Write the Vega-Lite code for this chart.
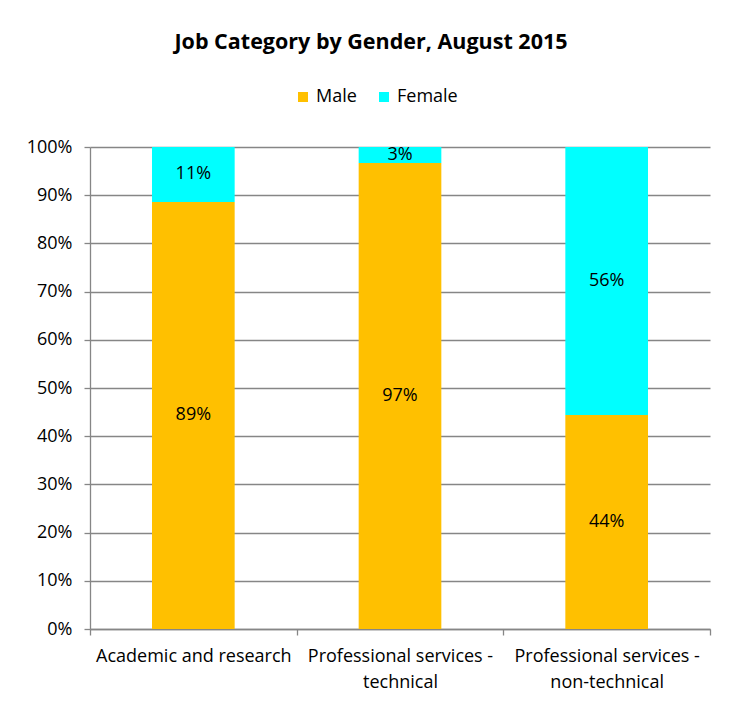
{
  "$schema": "https://vega.github.io/schema/vega-lite/v6.json",
  "width": 620,
  "height": 482,
  "autosize": {"type": "none"},
  "padding": {"left": 90, "top": 147, "right": 22, "bottom": 80},
  "background": "white",
  "title": {
    "text": "Job Category by Gender, August 2015",
    "anchor": "middle",
    "dx": -29,
    "offset": 35,
    "fontSize": 21.5,
    "font": "Open Sans",
    "fontWeight": "bold",
    "color": "black"
  },
  "config": {
    "font": "Open Sans",
    "view": {"stroke": null}
  },
  "data": {
    "values": [
      {"category": "Academic and research", "gender": "Male", "value": 0.886},
      {"category": "Academic and research", "gender": "Female", "value": 0.114},
      {"category": "Professional services - technical", "gender": "Male", "value": 0.967},
      {"category": "Professional services - technical", "gender": "Female", "value": 0.033},
      {"category": "Professional services - non-technical", "gender": "Male", "value": 0.444},
      {"category": "Professional services - non-technical", "gender": "Female", "value": 0.556}
    ]
  },
  "transform": [
    {"stack": "value", "groupby": ["category"], "sort": [{"field": "gender", "order": "descending"}], "as": ["y0", "y1"]},
    {"calculate": "(datum.y0 + datum.y1) / 2", "as": "mid"}
  ],
  "encoding": {
    "x": {
      "field": "category",
      "type": "nominal",
      "sort": null,
      "scale": {"paddingInner": 0, "paddingOuter": 0},
      "axis": {
        "title": null,
        "labelAngle": 0,
        "tickBand": "extent",
        "domainColor": "#868686",
        "domainWidth": 1.3,
        "tickColor": "#868686",
        "tickWidth": 1.3,
        "tickSize": 6,
        "labelFontSize": 18,
        "labelColor": "black",
        "labelPadding": 12,
        "labelLineHeight": 26,
        "labelLimit": 300,
        "labelExpr": "split(replace(datum.label, ' - ', ' -|'), '|')"
      }
    }
  },
  "layer": [
    {
      "mark": {"type": "bar", "width": {"band": 0.4}},
      "encoding": {
        "y": {
          "field": "y0",
          "type": "quantitative",
          "scale": {"domain": [0, 1]},
          "axis": {
            "title": null,
            "format": ".0%",
            "values": [0, 0.1, 0.2, 0.3, 0.4, 0.5, 0.6, 0.7, 0.8, 0.9, 1],
            "gridColor": "#868686",
            "gridWidth": 1.3,
            "domainColor": "#868686",
            "domainWidth": 1.3,
            "tickColor": "#868686",
            "tickWidth": 1.3,
            "tickSize": 6,
            "labelFontSize": 18,
            "labelColor": "black",
            "labelPadding": 12
          }
        },
        "y2": {"field": "y1"},
        "color": {
          "field": "gender",
          "type": "nominal",
          "scale": {"domain": ["Male", "Female"], "range": ["#FFC000", "#00FFFF"]},
          "legend": {
            "title": null,
            "orient": "none",
            "direction": "horizontal",
            "legendX": 204,
            "legendY": -59,
            "symbolType": "square",
            "symbolSize": 100,
            "symbolStrokeWidth": 0,
            "symbolOpacity": 1,
            "labelFontSize": 18,
            "labelColor": "black",
            "labelOffset": 4,
            "columnPadding": 18
          }
        }
      }
    },
    {
      "mark": {"type": "text", "fontSize": 18, "color": "black", "baseline": "middle"},
      "encoding": {
        "y": {"field": "mid", "type": "quantitative"},
        "text": {"field": "value", "type": "quantitative", "format": ".0%"}
      }
    }
  ]
}
